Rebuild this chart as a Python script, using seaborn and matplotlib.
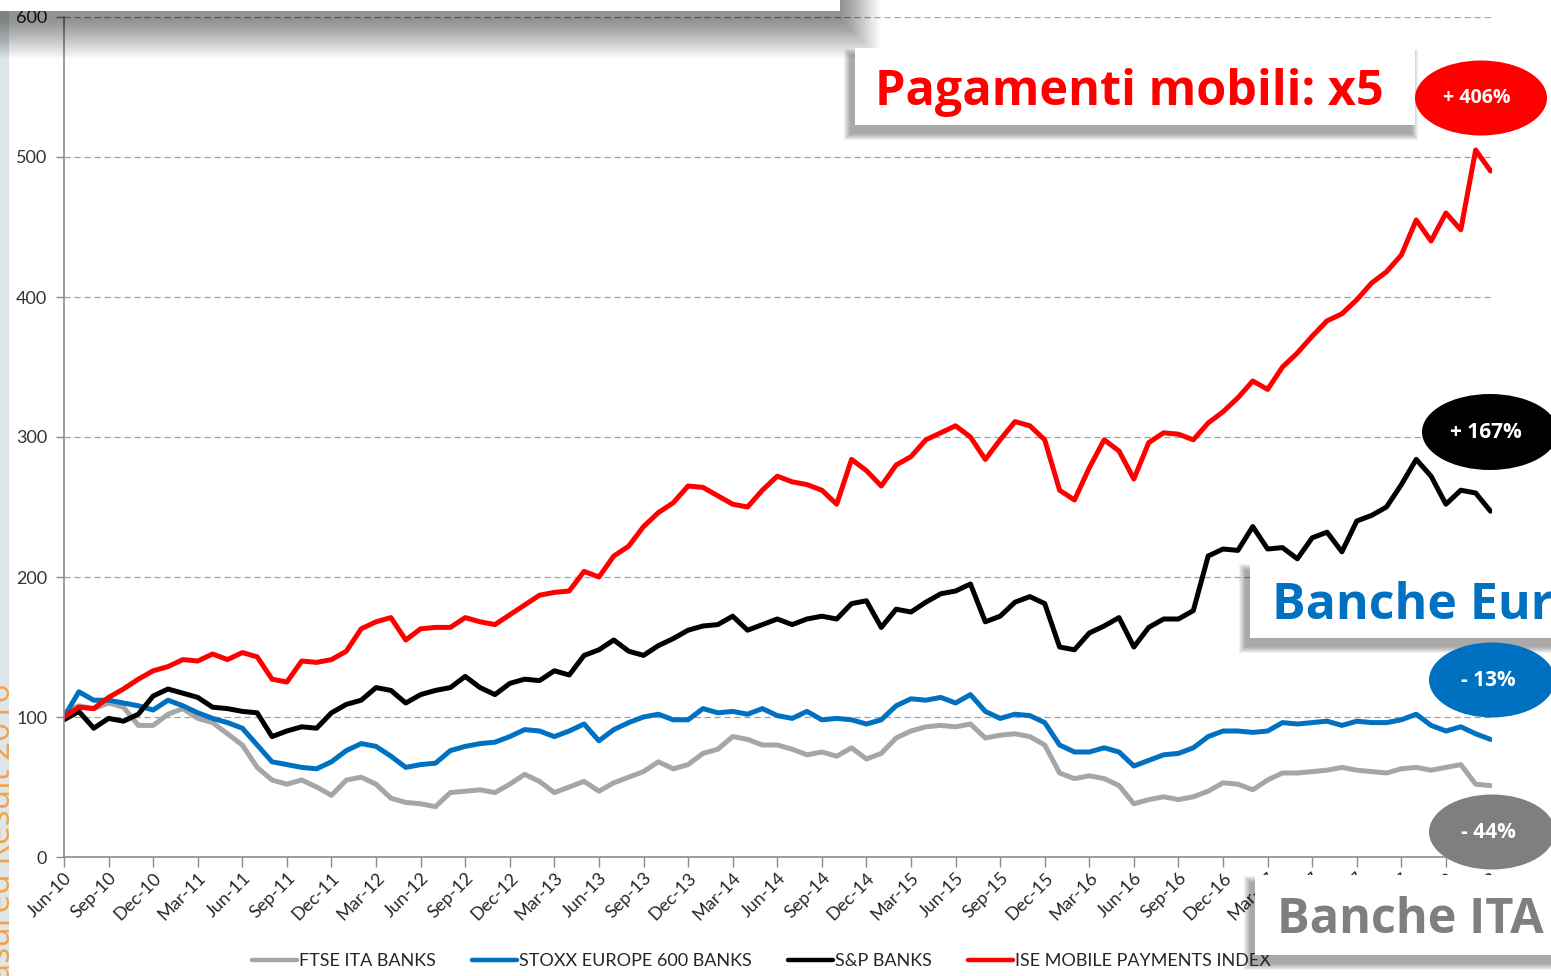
import numpy as np
import pandas as pd
import matplotlib
matplotlib.use("Agg")
import matplotlib.pyplot as plt
import seaborn as sns
from matplotlib.patches import Rectangle, Ellipse
from matplotlib.lines import Line2D

# ---- data (index = 100 at Jun-10, one value per month) ----
months = list(range(97))

ftse_ita_banks = [
    103, 108, 106, 110, 107, 94, 94, 102, 106, 99, 96, 88, 80, 64, 55, 52, 55, 50, 44, 55,
    57, 52, 42, 39, 38, 36, 46, 47, 48, 46, 52, 59, 54, 46, 50, 54, 47, 53, 57, 61,
    68, 63, 66, 74, 77, 86, 84, 80, 80, 77, 73, 75, 72, 78, 70, 74, 85, 90, 93, 94,
    93, 95, 85, 87, 88, 86, 80, 60, 56, 58, 56, 51, 38, 41, 43, 41, 43, 47, 53, 52,
    48, 55, 60, 60, 61, 62, 64, 62, 61, 60, 63, 64, 62, 64, 66, 52, 51,
]
stoxx_banks = [
    100, 118, 112, 112, 110, 108, 105, 112, 108, 103, 99, 96, 92, 80, 68, 66, 64, 63, 68, 76,
    81, 79, 72, 64, 66, 67, 76, 79, 81, 82, 86, 91, 90, 86, 90, 95, 83, 91, 96, 100,
    102, 98, 98, 106, 103, 104, 102, 106, 101, 99, 104, 98, 99, 98, 95, 98, 108, 113, 112, 114,
    110, 116, 104, 99, 102, 101, 96, 80, 75, 75, 78, 75, 65, 69, 73, 74, 78, 86, 90, 90,
    89, 90, 96, 95, 96, 97, 94, 97, 96, 96, 98, 102, 94, 90, 93, 88, 84,
]
sp_banks = [
    98, 104, 92, 99, 97, 102, 115, 120, 117, 114, 107, 106, 104, 103, 86, 90, 93, 92, 103, 109,
    112, 121, 119, 110, 116, 119, 121, 129, 121, 116, 124, 127, 126, 133, 130, 144, 148, 155, 147, 144,
    151, 156, 162, 165, 166, 172, 162, 166, 170, 166, 170, 172, 170, 181, 183, 164, 177, 175, 182, 188,
    190, 195, 168, 172, 182, 186, 181, 150, 148, 160, 165, 171, 150, 164, 170, 170, 176, 215, 220, 219,
    236, 220, 221, 213, 228, 232, 218, 240, 244, 250, 266, 284, 272, 252, 262, 260, 247,
]
ise_mobile = [
    100, 107, 106, 114, 120, 127, 133, 136, 141, 140, 145, 141, 146, 143, 127, 125, 140, 139, 141, 147,
    163, 168, 171, 155, 163, 164, 164, 171, 168, 166, 173, 180, 187, 189, 190, 204, 200, 215, 222, 236,
    246, 253, 265, 264, 258, 252, 250, 262, 272, 268, 266, 262, 252, 284, 276, 265, 280, 286, 298, 303,
    308, 300, 284, 298, 311, 308, 298, 262, 255, 278, 298, 290, 270, 296, 303, 302, 298, 310, 318, 328,
    340, 334, 350, 360, 372, 383, 388, 398, 410, 418, 430, 455, 440, 460, 448, 505, 490,
]

series_names = ["FTSE ITA BANKS", "STOXX EUROPE 600 BANKS", "S&P BANKS", "ISE MOBILE PAYMENTS INDEX"]
series_values = [ftse_ita_banks, stoxx_banks, sp_banks, ise_mobile]
series_colors = ["#a6a6a6", "#0070c0", "#000000", "#ff0000"]

quarter_labels = [
    "Jun-10", "Sep-10", "Dec-10", "Mar-11", "Jun-11", "Sep-11", "Dec-11", "Mar-12", "Jun-12",
    "Sep-12", "Dec-12", "Mar-13", "Jun-13", "Sep-13", "Dec-13", "Mar-14", "Jun-14", "Sep-14",
    "Dec-14", "Mar-15", "Jun-15", "Sep-15", "Dec-15", "Mar-16", "Jun-16", "Sep-16", "Dec-16",
    "Mar-17", "Jun-17", "Sep-17", "Dec-17", "Mar-18", "Jun-18",
]

badge_texts = ["+ 406%", "+ 167%", "- 13%", "- 44%"]
badge_colors = ["#ff0000", "#000000", "#0070c0", "#7f7f7f"]

df = pd.concat(
    [pd.DataFrame({"month": months, "value": v, "series": n}) for n, v in zip(series_names, series_values)],
    ignore_index=True,
)

sns.set_theme(style="white")
plt.rcParams["font.family"] = ["Lato", "DejaVu Sans"]

W, H = 1551, 976
fig = plt.figure(figsize=(W / 100, H / 100), dpi=100)
fig.patch.set_facecolor("white")
ax = fig.add_axes([64 / W, 1 - 857 / H, (1492 - 64) / W, (857 - 17) / H])

sns.lineplot(data=df, x="month", y="value", hue="series", hue_order=series_names,
             palette=dict(zip(series_names, series_colors)), linewidth=3.6,
             estimator=None, sort=False, legend=False, ax=ax)

ax.set_xlim(0, 96.1)
ax.set_ylim(0, 600)
ax.set_yticks(range(0, 601, 100))
ax.set_xticks(np.arange(0, 97, 3))
ax.set_xticklabels(quarter_labels, rotation=45, ha="right", rotation_mode="anchor")
ax.set_xlabel("")
ax.set_ylabel("")
ax.yaxis.grid(True, linestyle=(0, (5, 3)), color="#a0a0a0", linewidth=0.9)
ax.xaxis.grid(False)
for side in ["top", "right"]:
    ax.spines[side].set_visible(False)
for side in ["left", "bottom"]:
    ax.spines[side].set_color("#8c8c8c")
    ax.spines[side].set_linewidth(1.2)
ax.tick_params(axis="x", bottom=True, length=7, width=1, color="#8c8c8c",
               labelsize=13, labelcolor="#262626", pad=2)
ax.tick_params(axis="y", left=True, length=6, width=1, color="#8c8c8c",
               labelsize=13, labelcolor="#333333", pad=6)

# legend
handles = [Line2D([], [], color=c, lw=3.2) for c in series_colors]
fig.legend(handles, series_names, loc="center", bbox_to_anchor=(0.491, 1 - 961 / H), ncol=4,
           frameon=False, fontsize=13, handlelength=2.5, handletextpad=0.1,
           columnspacing=2.0, labelcolor="#262626")


def px_rect(x0, y0, x1, y1, **kw):
    return Rectangle((x0 / W, 1 - y1 / H), (x1 - x0) / W, (y1 - y0) / H,
                     transform=fig.transFigure, **kw)


def shadow_box(x0, y0, x1, y1, dx=0, dy=6, blur=8, alpha=0.05, z=5):
    for k in range(blur, 0, -1):
        fig.add_artist(px_rect(x0 - k + dx, y0 - k + dy, x1 + k + dx, y1 + k + dy,
                               facecolor="black", edgecolor="none", alpha=alpha, zorder=z))
    fig.add_artist(px_rect(x0, y0, x1, y1, facecolor="white", edgecolor="none", zorder=z + 0.1))


# left slide strip with cut-off side text
fig.add_artist(px_rect(0, 0, 9, H, facecolor="#dfe6ea", edgecolor="none", zorder=2))
fig.text(10 / W, 1 - 683 / H, "Measured Result 2016", rotation=90, rotation_mode="anchor",
         ha="right", va="baseline", fontsize=24, color="#f3a24a",
         family=["Open Sans", "DejaVu Sans"], zorder=2.5)

# slide title box cut off at the top
shadow_box(-40, -40, 840, 11, dx=0, dy=8, blur=40, alpha=0.011, z=3)

# label boxes
shadow_box(855, 48, 1415, 125, dx=-4, dy=8, blur=7, alpha=0.055, z=5)
fig.text(875 / W, 1 - 105 / H, "Pagamenti mobili: x5", ha="left", va="baseline", fontsize=35,
         fontweight="bold", color="#ff0000", family=["Open Sans", "DejaVu Sans"], zorder=6)

shadow_box(1250, 563, 1600, 638, dx=-4, dy=8, blur=7, alpha=0.055, z=5)
fig.text(1272 / W, 1 - 619 / H, "Banche Europee", ha="left", va="baseline", fontsize=36,
         fontweight="bold", color="#0070c0", family=["Open Sans", "DejaVu Sans"], zorder=6)

shadow_box(1255, 875, 1600, 955, dx=-4, dy=8, blur=7, alpha=0.055, z=5)
fig.text(1277 / W, 1 - 933 / H, "Banche ITA", ha="left", va="baseline", fontsize=35,
         fontweight="bold", color="#7f7f7f", family=["Open Sans", "DejaVu Sans"], zorder=6)

# percentage badges
badge_boxes = [(1481, 98, 132, 75, 14), (1490, 432, 136, 76, 15),
               (1492, 680, 126, 75, 15), (1492, 832, 126, 75, 15)]
for (cx, cy, ew, eh, fs), txt, col in zip(badge_boxes, badge_texts, badge_colors):
    fig.add_artist(Ellipse((cx / W, 1 - cy / H), ew / W, eh / H, transform=fig.transFigure,
                           facecolor=col, edgecolor="none", zorder=7))
    fig.text((cx - 4) / W, 1 - cy / H, txt, ha="center", va="center", fontsize=fs,
             fontweight="bold", color="white", family=["Open Sans", "DejaVu Sans"], zorder=8)

fig.savefig("out.png", dpi=100)
